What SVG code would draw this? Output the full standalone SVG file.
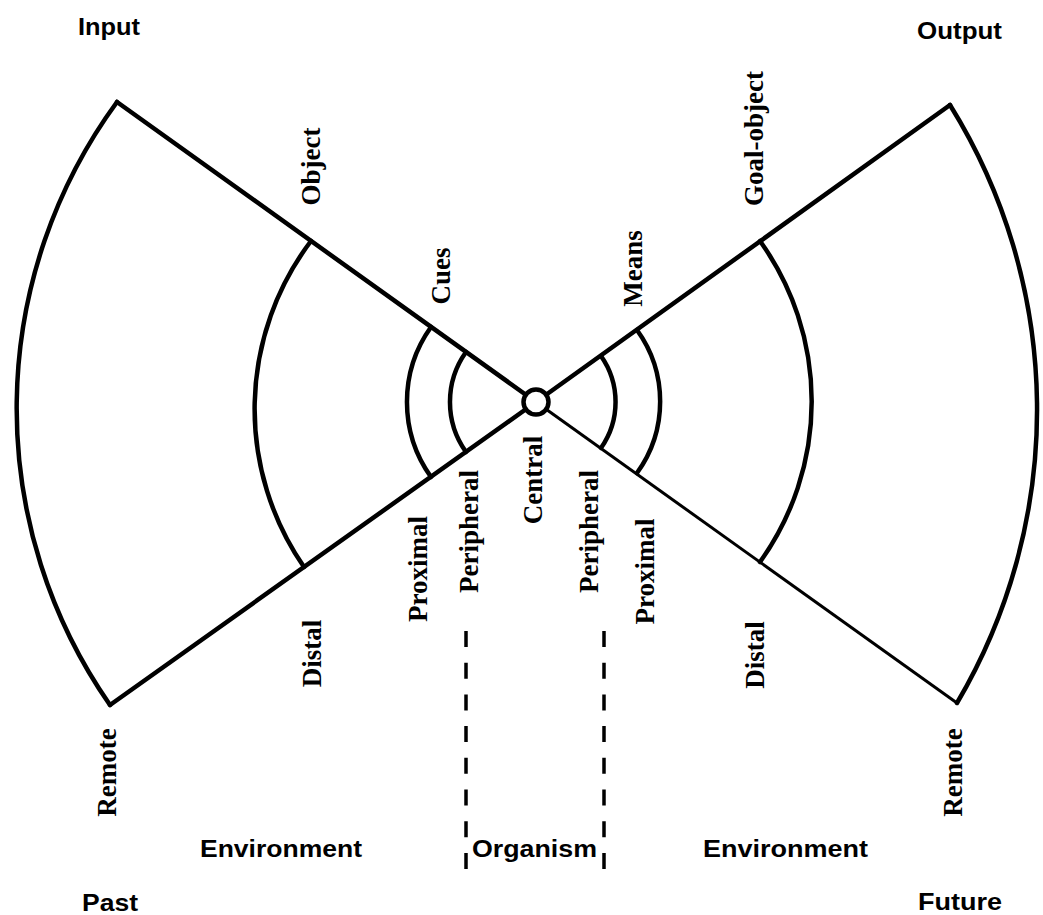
<svg xmlns="http://www.w3.org/2000/svg" width="1043" height="915" viewBox="0 0 1043 915">
<style>
.ln{fill:none;stroke:#000;stroke-width:4.5;stroke-linecap:round;stroke-linejoin:round}
.thin{fill:none;stroke:#000;stroke-width:3}
.dash{fill:none;stroke:#000;stroke-width:3.5;stroke-dasharray:16 15.7}
.v{font-family:"Liberation Serif","Times New Roman",serif;font-weight:bold;font-size:27px;text-anchor:middle;fill:#000}
.s{font-family:"Liberation Sans",Arial,sans-serif;font-weight:bold;font-size:23px;fill:#000}
</style>
<rect width="1043" height="915" fill="#fff"/>
<g id="connectors">
<path class="ln" d="M536 402 L117 102"/>
<path class="ln" d="M536 402 L110 705"/>
<path class="ln" d="M536 402 L950 105"/>
<path class="thin" d="M536 402 L957 703"/>
<path class="dash" d="M466 631 V869"/>
<path class="dash" d="M604 631 V869"/>
</g>
<g id="outer-left"><path class="ln" d="M117 102 A518 518 0 0 0 110 705"/></g>
<g id="outer-right"><path class="ln" d="M950 105 A577 577 0 0 1 957 703"/></g>
<g id="distal-left"><path class="ln" d="M311 241 A278 278 0 0 0 304 567"/></g>
<g id="distal-right"><path class="ln" d="M760 241 A275 275 0 0 1 760 562"/></g>
<g id="cues-outer"><path class="ln" d="M431 327 A129 129 0 0 0 431 477"/></g>
<g id="cues-inner"><path class="ln" d="M466 352 A86 86 0 0 0 466 452"/></g>
<g id="means-outer"><path class="ln" d="M637 330 A122 122 0 0 1 637 473"/></g>
<g id="means-inner"><path class="ln" d="M601 356 A80 80 0 0 1 601 448"/></g>
<g id="center"><circle cx="536" cy="402" r="12.5" fill="#fff" stroke="#000" stroke-width="4.5"/></g>
<g id="labels-vertical">
<text class="v" transform="translate(320 166.5) rotate(-90)">Object</text>
<text class="v" transform="translate(450 276) rotate(-90)">Cues</text>
<text class="v" transform="translate(642 268.5) rotate(-90)">Means</text>
<text class="v" transform="translate(763 138.5) rotate(-90)">Goal-object</text>
<text class="v" transform="translate(321 653.5) rotate(-90)">Distal</text>
<text class="v" transform="translate(764 655) rotate(-90)">Distal</text>
<text class="v" transform="translate(427 569) rotate(-90)">Proximal</text>
<text class="v" transform="translate(478 531.5) rotate(-90)">Peripheral</text>
<text class="v" transform="translate(542 480) rotate(-90)">Central</text>
<text class="v" transform="translate(598 531.5) rotate(-90)">Peripheral</text>
<text class="v" transform="translate(654 571.5) rotate(-90)">Proximal</text>
<text class="v" transform="translate(116 772.5) rotate(-90)">Remote</text>
<text class="v" transform="translate(962 772.5) rotate(-90)">Remote</text>
</g>
<g id="labels">
<text class="s" x="78" y="35" textLength="62" lengthAdjust="spacingAndGlyphs">Input</text>
<text class="s" x="917" y="39" textLength="85" lengthAdjust="spacingAndGlyphs">Output</text>
<text class="s" x="82" y="911" textLength="56" lengthAdjust="spacingAndGlyphs">Past</text>
<text class="s" x="918" y="910" textLength="84" lengthAdjust="spacingAndGlyphs">Future</text>
<text class="s" x="200" y="857" textLength="162" lengthAdjust="spacingAndGlyphs">Environment</text>
<text class="s" x="703" y="857" textLength="165" lengthAdjust="spacingAndGlyphs">Environment</text>
<text class="s" x="472" y="857" textLength="125" lengthAdjust="spacingAndGlyphs">Organism</text>
</g>
</svg>
